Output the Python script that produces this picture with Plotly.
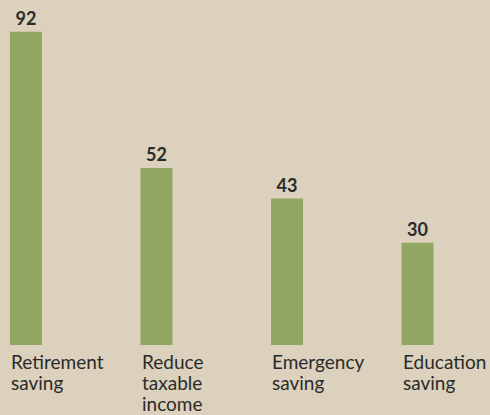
import plotly.graph_objects as go

categories = ["Retirement<br>saving", "Reduce<br>taxable<br>income", "Emergency<br>saving", "Education<br>saving"]
values = [92, 52, 43, 30]

BG = "#dbd1bc"
BAR = "#91a661"
TXT = "#2b2b2b"

xs = list(range(len(values)))
bw = 0.245

fig = go.Figure()
fig.add_trace(go.Bar(
    x=xs, y=values, width=bw, marker=dict(color=BAR, line=dict(width=0)),
    text=[str(v) for v in values], textposition="outside",
    textfont=dict(family="Lato", size=18, color=TXT, weight="bold"),
    cliponaxis=False, hoverinfo="skip",
))

for i, c in enumerate(categories):
    fig.add_annotation(
        x=xs[i] - bw / 2, y=0, xref="x", yref="y",
        text="<span style='font-size:19px'>" + c.replace("<br>", "</span><br><span style='font-size:19px'>") + "</span>",
        showarrow=False,
        xanchor="left", yanchor="top", align="left", yshift=-3, xshift=-1,
        font=dict(family="Lato", size=16, color=TXT),
    )

fig.update_layout(
    width=490, height=415,
    margin=dict(l=0, r=0, t=0, b=70),
    paper_bgcolor=BG, plot_bgcolor=BG,
    showlegend=False,
    xaxis=dict(range=[-0.1992, 3.5556], visible=False, fixedrange=True),
    yaxis=dict(range=[0, 101.3], visible=False, fixedrange=True),
)

fig.write_html(
    "out.html",
    config={"displayModeBar": False},
    post_script="document.body.style.margin='0';document.body.style.background='%s';document.body.style.overflow='hidden';" % BG,
)
